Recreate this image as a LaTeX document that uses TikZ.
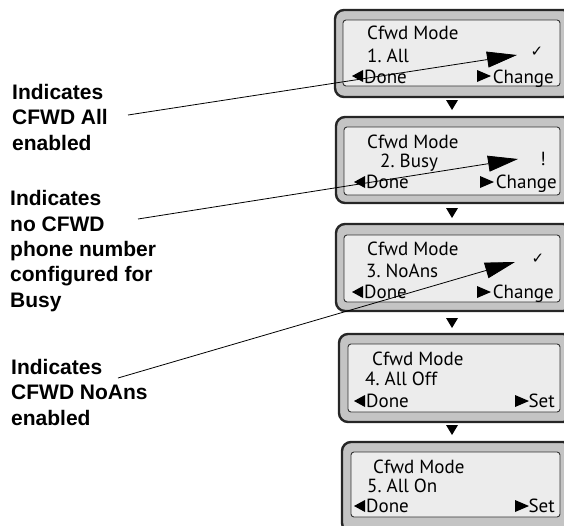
\documentclass[tikz,border=0pt]{standalone}
\usepackage{fontspec}
\setmainfont{Liberation Sans}
\newfontfamily\lcdfont{PT Sans}
\newfontfamily\symfont{DejaVu Sans}
\usetikzlibrary{arrows.meta}
\definecolor{bezel}{HTML}{C4C4C4}
\definecolor{screen}{HTML}{ECECEC}
\tikzset{
  bezelbox/.style={draw=black!85, line width=2.4pt, fill=bezel, rounded corners=9pt},
  screenbox/.style={draw=black!80, line width=0.9pt, fill=screen, rounded corners=3pt},
  lcd/.style={inner sep=0pt, anchor=base west, font=\lcdfont\fontsize{19}{21}\selectfont},
  lcdr/.style={inner sep=0pt, anchor=base east, font=\lcdfont\fontsize{19}{21}\selectfont},
  callout/.style={inner sep=0pt, anchor=base west, align=left,
    font=\bfseries\fontsize{21}{25.3}\selectfont},
  pointer/.style={line width=0.8pt, -{Triangle[length=30pt,width=16pt]}},
  flowtri/.style={fill=black},
}
\begin{document}
\begin{tikzpicture}[x=1pt,y=-1pt]
\useasboundingbox (0,0) rectangle (564,525);

% ---------- screens ----------
\foreach \ox/\oy/\ob/\ix/\iy/\ib in {335/10/97/343/20/86, 336/117/203/344/127/195, 336/224/311/344/235/302, 339/334/422/348/344/412, 342/442/532/351/452/517}{
  \draw[bezelbox] (\ox,\oy) rectangle (572,\ob);
  \draw[screenbox] (\ix,\iy) rectangle (560,\ib);
}

% ---------- flow triangles ----------
\foreach \ty in {100,208,318,425}{
  \fill[flowtri] (446,\ty) -- (458,\ty) -- (452,\ty+10) -- cycle;
}

% ---------- screen 1 ----------
\node[lcd] (s1a) at (367,39) {Cfwd Mode};
\node[lcd] (s1b) at (367,62) {1.\ All};
\fill (363,70) -- (363,82) -- (352,76) -- cycle;
\node[lcd] (s1c) at (364,83) {Done};
\fill (477,70) -- (477,82) -- (491,76) -- cycle;
\node[lcdr] (s1d) at (554,83) {Change};
\node[inner sep=0pt, anchor=base] (s1e) at (537,56) {\symfont\fontsize{15}{15}\selectfont ✓};

% ---------- screen 2 ----------
\node[lcd] (s2a) at (367,148) {Cfwd Mode};
\node[lcd] (s2b) at (380,167) {2.\ Busy};
\fill (365,176) -- (365,188) -- (354,182) -- cycle;
\node[lcd] (s2c) at (366,188) {Done};
\fill (480,176) -- (480,188) -- (494,182) -- cycle;
\node[lcdr] (s2d) at (557,188) {Change};
\node[inner sep=0pt, anchor=base] (s2e) at (543,165) {\lcdfont\fontsize{19}{21}\selectfont !};

% ---------- screen 3 ----------
\node[lcd] (s3a) at (367,255) {Cfwd Mode};
\node[lcd] (s3b) at (366,277) {3.\ NoAns};
\fill (363,286) -- (363,298) -- (352,292) -- cycle;
\node[lcd] (s3c) at (364,298) {Done};
\fill (477,286) -- (477,298) -- (491,292) -- cycle;
\node[lcdr] (s3d) at (554,298) {Change};
\node[inner sep=0pt, anchor=base] (s3e) at (538,263) {\symfont\fontsize{15}{15}\selectfont ✓};

% ---------- screen 4 ----------
\node[lcd] (s4a) at (372,365) {Cfwd Mode};
\node[lcd] (s4b) at (365,385) {4.\ All Off};
\fill (365,395) -- (365,407) -- (354,401) -- cycle;
\node[lcd] (s4c) at (366,407) {Done};
\fill (515,395) -- (515,407) -- (529,401) -- cycle;
\node[lcdr] (s4d) at (555,407) {Set};

% ---------- screen 5 ----------
\node[lcd] (s5a) at (373,473) {Cfwd Mode};
\node[lcd] (s5b) at (367,492) {5.\ All On};
\fill (365,500) -- (365,512) -- (354,506) -- cycle;
\node[lcd] (s5c) at (366,512) {Done};
\fill (515,500) -- (515,512) -- (529,506) -- cycle;
\node[lcdr] (s5d) at (555,512) {Set};

% ---------- callout labels (anchored at the last line's baseline) ----------
\node[callout] (l1) at (12,150) {Indicates\\CFWD All\\enabled};
\node[callout] (l2) at (10,307) {Indicates\\no CFWD\\phone number\\configured for\\Busy};
\node[callout] (l3) at (11,425) {Indicates\\CFWD NoAns\\enabled};

\coordinate (p1s) at (128,115);
\coordinate (p1e) at (517,55);
\coordinate (p2s) at (138,219);
\coordinate (p2e) at (518,159);
\coordinate (p3s) at (118,378);
\coordinate (p3e) at (515,262);
\draw[pointer] (p1s) -- (p1e);
\draw[pointer] (p2s) -- (p2e);
\draw[pointer] (p3s) -- (p3e);
\end{tikzpicture}
\end{document}
